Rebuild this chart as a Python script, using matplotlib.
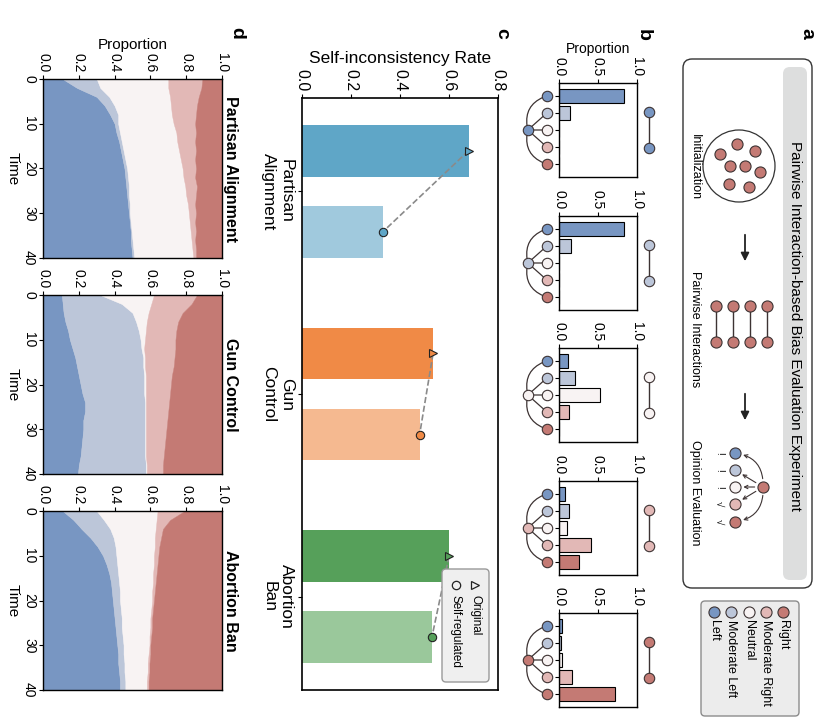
import matplotlib
matplotlib.use('Agg')
import matplotlib.pyplot as plt
from matplotlib.patches import FancyBboxPatch, Circle

plt.rcParams['font.family'] = ['Liberation Sans', 'DejaVu Sans']

# ---- data ----
opinions = ['Left', 'Moderate Left', 'Neutral', 'Moderate Right', 'Right']
op_colors = ['#7896c2', '#bcc6d9', '#f8f3f3', '#e2b8b6', '#c47a74']

# panel b: opinion distribution after a pairwise interaction, one per endpoint opinion
b_from_left = [0.83, 0.14, 0.0, 0.0, 0.0]
b_from_modleft = [0.83, 0.15, 0.0, 0.0, 0.0]
b_from_neutral = [0.11, 0.20, 0.53, 0.13, 0.0]
b_from_modright = [0.08, 0.13, 0.10, 0.41, 0.26]
b_from_right = [0.04, 0.025, 0.04, 0.17, 0.72]
b_values = [b_from_left, b_from_modleft, b_from_neutral, b_from_modright, b_from_right]

# panel c: self-inconsistency rate
topics = ['Partisan\nAlignment', 'Gun\nControl', 'Abortion\nBan']
rate_original = [0.68, 0.535, 0.60]
rate_selfreg = [0.33, 0.48, 0.53]
c_orig_colors = ['#5fa6c7', '#f08a46', '#56a05a']
c_self_colors = ['#a0c9dd', '#f5b990', '#9ac89b']

# panel d: cumulative opinion proportions over time (Left | +ModLeft | +Neutral | +ModRight)
time = [0, 2, 4, 6, 8, 10, 12, 14, 16, 18, 20, 22, 24, 26, 28, 30, 32, 34, 36, 38, 40]

pa_b1 = [.11, .19, .30, .345, .375, .40, .41, .425, .435, .445, .455, .46, .465, .47, .475, .48, .485, .49, .49, .495, .50]
pa_b2 = [.30, .32, .37, .40, .42, .42, .43, .44, .45, .46, .47, .475, .48, .48, .485, .485, .49, .495, .50, .505, .51]
pa_b3 = [.70, .70, .71, .715, .72, .73, .745, .75, .76, .77, .78, .785, .795, .80, .81, .815, .82, .825, .83, .835, .84]
pa_b4 = [.89, .885, .87, .86, .855, .85, .855, .85, .855, .85, .855, .85, .86, .855, .85, .855, .85, .855, .85, .855, .855]

gc_b1 = [.105, .11, .115, .125, .14, .15, .165, .18, .19, .20, .21, .22, .235, .235, .225, .225, .22, .215, .21, .20, .195]
gc_b2 = [.32, .44, .50, .52, .535, .545, .55, .56, .56, .565, .565, .565, .57, .57, .57, .57, .57, .57, .57, .575, .575]
gc_b3 = [.62, .605, .59, .58, .575, .57, .565, .57, .57, .575, .575, .575, .575, .575, .575, .575, .575, .575, .575, .58, .58]
gc_b4 = [.86, .83, .78, .755, .745, .74, .74, .735, .73, .72, .715, .71, .705, .70, .695, .69, .685, .68, .675, .67, .67]

ab_b1 = [.11, .17, .215, .265, .305, .335, .355, .37, .38, .385, .39, .395, .40, .405, .41, .415, .42, .42, .425, .43, .43]
ab_b2 = [.30, .34, .375, .395, .405, .41, .415, .42, .425, .43, .43, .435, .44, .44, .445, .45, .45, .455, .455, .46, .46]
ab_b3 = [.64, .635, .63, .625, .625, .62, .62, .615, .615, .61, .61, .605, .60, .60, .595, .595, .59, .585, .585, .58, .58]
ab_b4 = [.79, .71, .67, .66, .65, .645, .64, .635, .63, .625, .62, .615, .61, .61, .605, .60, .60, .595, .595, .59, .59]

d_titles = ['Partisan Alignment', 'Gun Control', 'Abortion Ban']
d_bounds = [[pa_b1, pa_b2, pa_b3, pa_b4],
            [gc_b1, gc_b2, gc_b3, gc_b4],
            [ab_b1, ab_b2, ab_b3, ab_b4]]

W, H = 835, 725
EDGE = '#3d3333'

fig = plt.figure(figsize=(W / 100, H / 100), dpi=100)


def px_axes(x0, y0, x1, y1):
    return fig.add_axes([x0 / W, 1 - y1 / H, (x1 - x0) / W, (y1 - y0) / H])


# ---- panel b ----
b_tops = [83, 216, 348, 481, 613]
for i, vals in enumerate(b_values):
    ax = px_axes(559, b_tops[i], 637, b_tops[i] + 94)
    ax.barh(range(5), vals, height=0.85, color=op_colors, edgecolor='black', linewidth=0.8)
    ax.set_xlim(0, 1)
    ax.set_ylim(4.75, -0.75)
    ax.xaxis.tick_top()
    ax.set_xticks([0, 0.5, 1])
    ax.set_xticklabels(['0.0', '0.5', '1.0'])
    ax.tick_params(axis='x', labelrotation=-90, labelsize=10, length=3, pad=2)
    ax.set_yticks(range(5))
    ax.set_yticklabels([])
    ax.tick_params(axis='y', length=3)
    for s in ax.spines.values():
        s.set_linewidth(1)
    if i == 0:
        ax.xaxis.set_label_position('top')
        ax.set_xlabel('Proportion', fontsize=10, labelpad=3)
    # star diagram: endpoint node linked to the five opinions
    for k in range(5):
        rad = -0.45 if k == 0 else (0.45 if k == 4 else 0)
        ax.annotate('', xy=(-0.154, k), xytext=(-0.40, 2), annotation_clip=False,
                    arrowprops=dict(arrowstyle='-', color=EDGE, lw=0.9, shrinkA=3, shrinkB=3,
                                    connectionstyle=f'arc3,rad={rad}'))
        ax.plot(-0.154, k, 'o', ms=7.5, mfc=op_colors[k], mec=EDGE, mew=0.8, clip_on=False, zorder=5)
    ax.plot(-0.40, 2, 'o', ms=7.5, mfc=op_colors[i], mec=EDGE, mew=0.8, clip_on=False, zorder=5)
    # pair of same-opinion agents
    ax.plot([1.154, 1.154], [0.94, 3.06], '-', color=EDGE, lw=1, clip_on=False)
    ax.plot([1.154, 1.154], [0.94, 3.06], 'o', ms=7.5, mfc=op_colors[i], mec=EDGE, mew=0.8,
            clip_on=False, zorder=5)

# ---- panel c ----
axc = px_axes(302, 98, 498, 690)
ypos = list(range(len(topics)))
y_orig = [y - 0.2 for y in ypos]
y_self = [y + 0.2 for y in ypos]
axc.barh(y_orig, rate_original, height=0.256, color=c_orig_colors)
axc.barh(y_self, rate_selfreg, height=0.256, color=c_self_colors)
for i in ypos:
    axc.plot([rate_original[i], rate_selfreg[i]], [y_orig[i], y_self[i]], '--', color='#8a8a8a', lw=1.2, zorder=3)
    axc.plot(rate_original[i], y_orig[i], '>', ms=6, mfc=c_orig_colors[i], mec='#222', mew=0.8, zorder=4)
    axc.plot(rate_selfreg[i], y_self[i], 'o', ms=6, mfc=c_orig_colors[i], mec='#222', mew=0.8, zorder=4)
axc.set_xlim(0, 0.8)
axc.set_ylim(2.46, -0.46)
axc.xaxis.tick_top()
axc.xaxis.set_label_position('top')
axc.set_xticks([0, 0.2, 0.4, 0.6, 0.8])
axc.set_xticklabels(['0.0', '0.2', '0.4', '0.6', '0.8'])
axc.tick_params(axis='x', labelrotation=-90, labelsize=11.5, length=3, pad=2)
axc.set_xlabel('Self-inconsistency Rate', fontsize=12.5, labelpad=4)
axc.set_yticks(ypos)
axc.set_yticklabels(topics, rotation=-90, va='center', ha='right', multialignment='center', fontsize=12.5)
axc.tick_params(axis='y', length=3, pad=3)
for s in axc.spines.values():
    s.set_linewidth(1.2)

# ---- panel d ----
d_tops = [79, 295, 511]
for i, bounds in enumerate(d_bounds):
    ax = px_axes(43, d_tops[i], 222, d_tops[i] + 179)
    edges = [[0] * len(time)] + bounds + [[1] * len(time)]
    for k in range(5):
        ax.fill_betweenx(time, edges[k], edges[k + 1], color=op_colors[k], lw=0.3, ec=op_colors[k])
    ax.set_xlim(0, 1)
    ax.set_ylim(40, 0)
    ax.xaxis.tick_top()
    ax.set_xticks([0, 0.2, 0.4, 0.6, 0.8, 1.0])
    ax.set_xticklabels(['0.0', '0.2', '0.4', '0.6', '0.8', '1.0'])
    ax.tick_params(axis='x', labelrotation=-90, labelsize=10, length=3, pad=2)
    ax.set_yticks([0, 10, 20, 30, 40])
    ax.tick_params(axis='y', labelrotation=-90, labelsize=10, length=3, pad=2)
    for lbl in ax.get_yticklabels():
        lbl.set_va('center')
    ax.set_ylabel('Time', rotation=270, va='top', fontsize=11)
    ax.yaxis.set_label_coords(-0.13, 0.5)
    for s in ax.spines.values():
        s.set_linewidth(1)
    if i == 0:
        ax.xaxis.set_label_position('top')
        ax.set_xlabel('Proportion', fontsize=11, labelpad=3)
    ax.text(1.045, 0.5, d_titles[i], transform=ax.transAxes, rotation=-90, rotation_mode='anchor',
            ha='center', va='center', fontsize=11.5, fontweight='bold')

# ---- overlay: schematic, legends, panel letters ----
ov = fig.add_axes([0, 0, 1, 1])
ov.set_xlim(0, W)
ov.set_ylim(H, 0)
ov.axis('off')


def rtext(x, y, s, ha='center', va='center', **kw):
    ov.text(x, y, s, rotation=-90, rotation_mode='anchor', ha=ha, va=va, **kw)


def node(x, y, c, ms=8):
    ov.plot(x, y, 'o', ms=ms, mfc=c, mec=EDGE, mew=0.8, zorder=5)


for letter, (lx, ly) in zip('abcd', [(807, 33), (643, 35), (502, 33), (237, 33)]):
    rtext(lx, ly, letter, fontsize=14, fontweight='bold')

# panel a frame
ov.add_patch(FancyBboxPatch((683, 59), 129, 529, boxstyle='round,pad=0,rounding_size=9',
                            fc='none', ec='#333333', lw=1))
ov.add_patch(FancyBboxPatch((783, 67), 24, 513, boxstyle='round,pad=0,rounding_size=7',
                            fc='#dddede', ec='none'))
rtext(795, 326, 'Pairwise Interaction-based Bias Evaluation Experiment', fontsize=11)

# initialization
ov.add_patch(Circle((739, 166), 36, fc='none', ec='#333333', lw=0.9))
init_nodes = [(737, 144), (755, 151), (720, 154), (730, 166), (745, 166), (760, 172), (729, 184), (749, 187)]
for nx, ny in init_nodes:
    node(nx, ny, op_colors[4])
rtext(695, 167, 'Initialization', fontsize=9)

arrow_kw = dict(arrowstyle='-|>', color='#222222', lw=1.3, mutation_scale=12)
ov.annotate('', xy=(745, 264), xytext=(745, 232), arrowprops=arrow_kw)
ov.annotate('', xy=(745, 423), xytext=(745, 391), arrowprops=arrow_kw)

# pairwise interactions
for px in [716, 733, 750, 767]:
    ov.plot([px, px], [306, 342], '-', color=EDGE, lw=1)
    node(px, 306, op_colors[4])
    node(px, 342, op_colors[4])
rtext(695, 329, 'Pairwise Interactions', fontsize=9)

# opinion evaluation
ev_y = [453, 470, 487, 504, 522]
marks = ['!', '!', '!', '\u221a', '\u221a']
for k in range(5):
    rad = 0.45 if k == 0 else (-0.45 if k == 4 else 0)
    ov.annotate('', xy=(735, ev_y[k]), xytext=(763, 487),
                arrowprops=dict(arrowstyle='->', color=EDGE, lw=0.8, mutation_scale=6,
                                shrinkA=6, shrinkB=6, connectionstyle=f'arc3,rad={rad}'))
    node(735, ev_y[k], op_colors[k])
    rtext(719, ev_y[k], marks[k], fontsize=7)
node(763, 487, op_colors[4])
rtext(695, 493, 'Opinion Evaluation', fontsize=9)

# opinion legend
ov.add_patch(FancyBboxPatch((701, 601), 98, 115, boxstyle='round,pad=0,rounding_size=4',
                            fc='#ececec', ec='#8c8c8c', lw=1))
leg_x = [714, 731, 749, 766, 783]
for k in range(5):
    node(leg_x[k], 612, op_colors[k], ms=8)
    rtext(leg_x[k], 620, opinions[k], ha='left', fontsize=9)

# panel c legend
ov.add_patch(FancyBboxPatch((442, 569), 47, 113, boxstyle='round,pad=0,rounding_size=4',
                            fc='#efefef', ec='#999999', lw=1))
ov.plot(475, 585, '>', ms=6, mfc='none', mec='#222222', mew=0.9)
ov.plot(456, 585, 'o', ms=6, mfc='none', mec='#222222', mew=0.9)
rtext(475, 595, 'Original', ha='left', fontsize=8.5)
rtext(456, 595, 'Self-regulated', ha='left', fontsize=8.5)

fig.savefig('out.png', dpi=100)
